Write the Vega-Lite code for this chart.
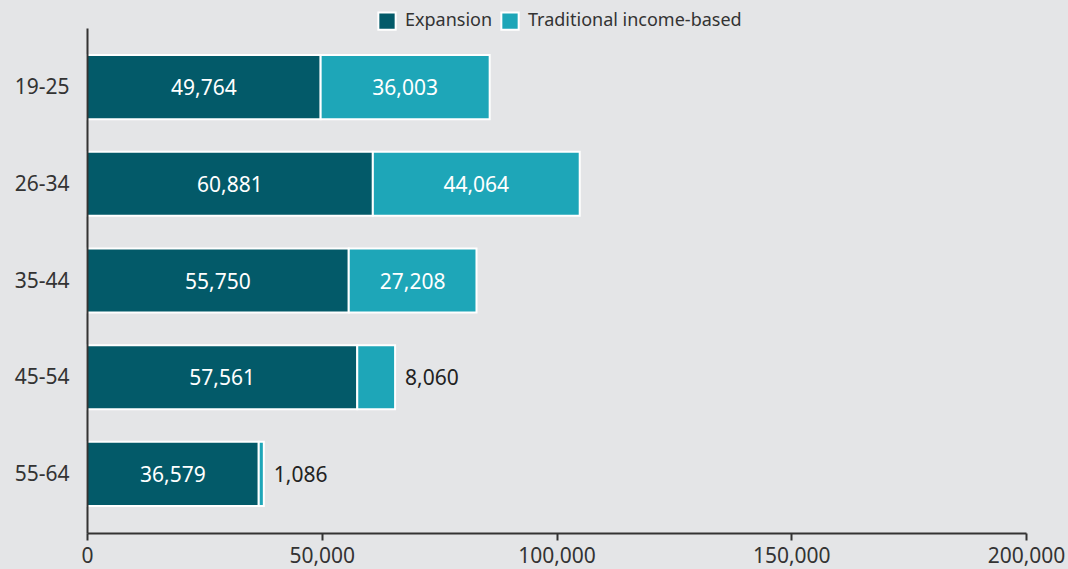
{
  "$schema": "https://vega.github.io/schema/vega-lite/v6.json",
  "width": 939,
  "height": 505,
  "autosize": {"type": "none"},
  "padding": {"left": 87, "top": 28, "right": 42, "bottom": 36},
  "background": "#e4e5e7",
  "config": {
    "view": {"stroke": null},
    "font": "Noto Sans",
    "axis": {"labelFont": "Noto Sans", "labelColor": "#333333", "labelFontSize": 21, "grid": false},
    "legend": {"labelFont": "Noto Sans", "labelColor": "#333333"}
  },
  "data": {
    "values": [
      {"age": "19-25", "type": "Expansion", "count": 49764, "order": 1},
      {"age": "19-25", "type": "Traditional income-based", "count": 36003, "order": 2},
      {"age": "26-34", "type": "Expansion", "count": 60881, "order": 1},
      {"age": "26-34", "type": "Traditional income-based", "count": 44064, "order": 2},
      {"age": "35-44", "type": "Expansion", "count": 55750, "order": 1},
      {"age": "35-44", "type": "Traditional income-based", "count": 27208, "order": 2},
      {"age": "45-54", "type": "Expansion", "count": 57561, "order": 1},
      {"age": "45-54", "type": "Traditional income-based", "count": 8060, "order": 2},
      {"age": "55-64", "type": "Expansion", "count": 36579, "order": 1},
      {"age": "55-64", "type": "Traditional income-based", "count": 1086, "order": 2}
    ]
  },
  "transform": [
    {"stack": "count", "groupby": ["age"], "sort": [{"field": "order"}], "as": ["x0", "x1"]},
    {"calculate": "(datum.x0 + datum.x1) / 2", "as": "mid"}
  ],
  "encoding": {
    "y": {
      "field": "age", "type": "nominal", "title": null,
      "scale": {"paddingInner": 0.337, "paddingOuter": 0.28},
      "axis": {"ticks": false, "labelPadding": 18, "domainColor": "#333333", "domainWidth": 2, "zindex": 1, "labelBaseline": "middle", "labelOffset": 1}
    }
  },
  "layer": [
    {
      "mark": {"type": "bar", "stroke": "white", "strokeWidth": 2},
      "encoding": {
        "x": {
          "field": "x0", "type": "quantitative", "title": null,
          "scale": {"domain": [0, 200000], "nice": false},
          "axis": {"values": [0, 50000, 100000, 150000, 200000], "format": ",d", "domainColor": "#333333", "domainWidth": 2, "tickColor": "#333333", "tickWidth": 2, "tickSize": 7, "labelPadding": 5, "labelFlush": false, "zindex": 1}
        },
        "x2": {"field": "x1"},
        "color": {
          "field": "type", "type": "nominal", "title": null,
          "scale": {"domain": ["Expansion", "Traditional income-based"], "range": ["#035a69", "#1ea6b8"]},
          "legend": {"orient": "none", "legendX": 290, "legendY": -17, "direction": "horizontal", "symbolType": "square", "symbolSize": 300, "symbolStrokeColor": "white", "symbolStrokeWidth": 2, "symbolOpacity": 1, "labelFontSize": 18, "labelLimit": 0, "columnPadding": 4, "labelOffset": 8}
        }
      }
    },
    {
      "transform": [{"filter": "datum.count >= 15000"}],
      "mark": {"type": "text", "color": "white", "fontSize": 21, "align": "center", "baseline": "middle", "dy": 2},
      "encoding": {
        "x": {"field": "mid", "type": "quantitative"},
        "text": {"field": "count", "type": "quantitative", "format": ",d"}
      }
    },
    {
      "transform": [{"filter": "datum.count < 15000"}],
      "mark": {"type": "text", "color": "#222222", "fontSize": 21, "align": "left", "baseline": "middle", "dx": 10, "dy": 2},
      "encoding": {
        "x": {"field": "x1", "type": "quantitative"},
        "text": {"field": "count", "type": "quantitative", "format": ",d"}
      }
    }
  ]
}
